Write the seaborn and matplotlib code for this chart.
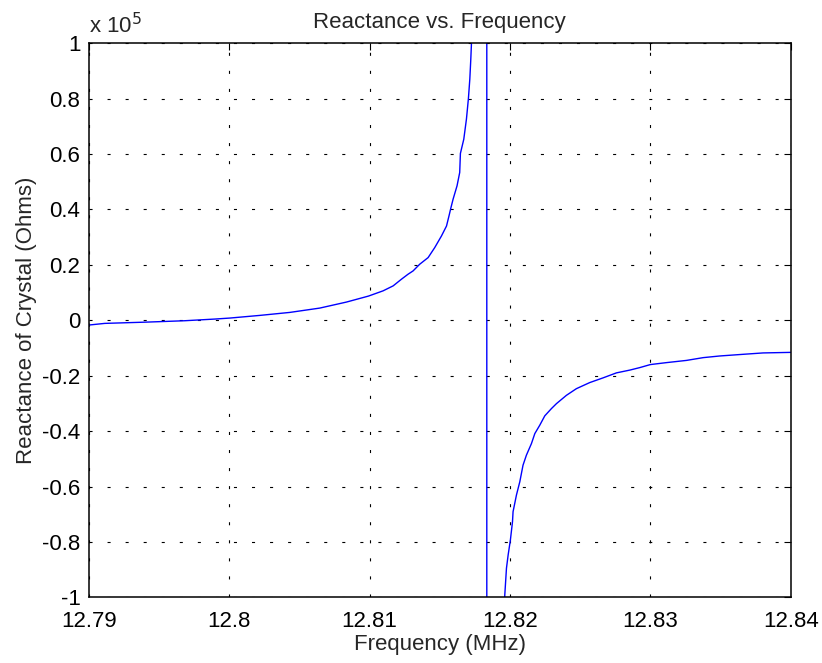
import pandas as pd
import seaborn as sns
import matplotlib.pyplot as plt
from matplotlib.ticker import FuncFormatter

# Frequency (MHz) and reactance (Ohms)
freq_mhz = [12.7900, 12.79114, 12.79423, 12.79684, 12.79897, 12.80004, 12.80218,
            12.80432, 12.80645, 12.80835, 12.80992, 12.81096, 12.81168, 12.81227,
            12.81274, 12.81310, 12.81357, 12.81417, 12.81464, 12.81512, 12.81548,
            12.81566, 12.81578, 12.81595, 12.81623, 12.81642, 12.81647, 12.81671,
            12.81690, 12.81704, 12.81714, 12.81721, 12.81726, 12.8178,
            12.81834, 12.81836, 12.8189,
            12.81963, 12.81975, 12.81987, 12.82003, 12.82018, 12.82022, 12.82046,
            12.82070, 12.82093, 12.82117, 12.82153, 12.82177, 12.82212, 12.82248,
            12.82295, 12.82331, 12.82402, 12.82473, 12.82568, 12.82663, 12.82758,
            12.82853, 12.82924, 12.8300, 12.83114, 12.83257, 12.83376, 12.83494,
            12.83660, 12.83803, 12.8400]
reactance = [-1740, -1140, -660, -180, 420, 780, 1740,
             2820, 4380, 6550, 8710, 10600, 12400, 14800,
             16600, 17800, 20200, 22600, 26200, 30400, 34000,
             37700, 40300, 43700, 48500, 53300, 60200, 65300,
             72600, 80000, 87000, 94200, 100250, 200000,
             5000000, -5000000, -200000,
             -99200, -89500, -84700, -79300, -72700, -69100, -63100,
             -58300, -52300, -48700, -44500, -40900, -37900, -34500,
             -31900, -30100, -27100, -24700, -22500, -20800, -19000,
             -18000, -17100, -16000, -15300, -14500, -13500, -12900,
             -12300, -11800, -11600]

x_ticks = [12.79, 12.80, 12.81, 12.82, 12.83, 12.84]
y_ticks = [-1e5, -0.8e5, -0.6e5, -0.4e5, -0.2e5, 0, 0.2e5, 0.4e5, 0.6e5, 0.8e5, 1e5]

df = pd.DataFrame({"freq": freq_mhz, "X": reactance})

sns.set_style("white")
plt.rcParams["font.family"] = ["Liberation Sans", "DejaVu Sans"]
plt.rcParams["lines.scale_dashes"] = False

fig, ax = plt.subplots(figsize=(8.22, 6.63), dpi=100)
plt.subplots_adjust(left=0.108, right=0.962, bottom=0.099, top=0.935)

sns.lineplot(data=df, x="freq", y="X", ax=ax, color=(0, 0, 1),
             linewidth=1.0, sort=False, estimator=None)

ax.set_xlim(12.79, 12.84)
ax.set_ylim(-1e5, 1e5)
ax.set_xticks(x_ticks)
ax.set_yticks(y_ticks)
ax.xaxis.set_major_formatter(FuncFormatter(lambda v, p: "%g" % round(v, 4)))
ax.yaxis.set_major_formatter(FuncFormatter(lambda v, p: "%g" % round(v / 1e5, 3)))

ax.grid(True, color="black", linestyle=(0, (2.2, 10.8)), linewidth=0.8)
ax.tick_params(direction="in", length=5, width=0.8, top=True, right=True,
               labelsize=16, colors="black")
ax.tick_params(axis="x", pad=10)
ax.tick_params(axis="y", pad=6)
for s in ax.spines.values():
    s.set_color("black")
    s.set_linewidth(1.1)

ax.set_title("Reactance vs. Frequency", fontsize=16, pad=11)
ax.set_xlabel("Frequency (MHz)", fontsize=16, labelpad=1)
ax.set_ylabel("Reactance of Crystal (Ohms)", fontsize=16, labelpad=4)
ax.text(0.0, 1.018, r"x 10$^{5}$", transform=ax.transAxes, fontsize=16,
        ha="left", va="baseline")

plt.savefig("out.png", dpi=100)
